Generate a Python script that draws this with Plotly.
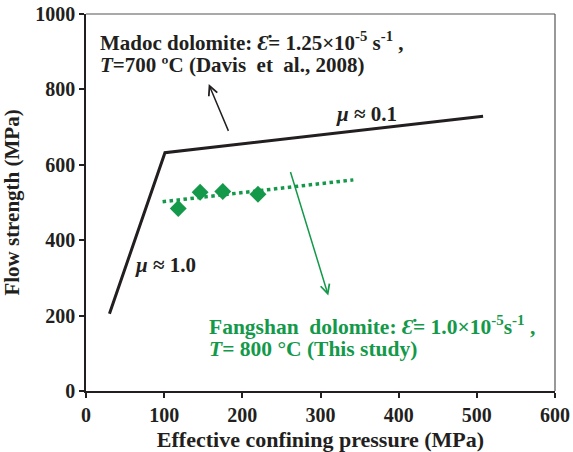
import plotly.graph_objects as go

# Madoc dolomite envelope (Davis et al., 2008)
madoc_p = [30, 101, 508]
madoc_s = [205, 632, 729]

# Fangshan dolomite data (this study)
fang_p = [118, 146, 175, 220]
fang_s = [484, 527, 529, 522]

# Fangshan trend line
trend_p = [98, 342]
trend_s = [502, 560]

x_ticks = [0, 100, 200, 300, 400, 500, 600]
y_ticks = [0, 200, 400, 600, 800, 1000]

BLACK = "#231f20"
GREEN = "#14994a"
FONT = "Liberation Serif, Times New Roman, serif"

fig = go.Figure()
fig.add_trace(go.Scatter(x=madoc_p, y=madoc_s, mode="lines",
                         line=dict(color=BLACK, width=3), showlegend=False))
fig.add_trace(go.Scatter(x=trend_p, y=trend_s, mode="lines",
                         line=dict(color=GREEN, width=3.5, dash="dot"), showlegend=False))
fig.add_trace(go.Scatter(x=fang_p, y=fang_s, mode="markers",
                         marker=dict(symbol="diamond", size=13, color=GREEN), showlegend=False))

ann = []
def txt(x, y, s, color=BLACK, size=21, xanchor="left"):
    ann.append(dict(x=x, y=y, xref="x", yref="y", text=s, showarrow=False,
                    xanchor=xanchor, yanchor="middle",
                    font=dict(family=FONT, size=size, color=color)))

txt(15, 928, "<b>Madoc dolomite: <i>Ɛ̇</i>= 1.25×10<sup>-5</sup> s<sup>-1</sup> ,</b>")
txt(15, 864, "<b><i>T</i>=700 ºC (Davis  et  al., 2008)</b>")
txt(317, 734, "<b><i>μ</i> ≈ 0.1</b>")
txt(60, 335, "<b><i>μ</i> ≈ 1.0</b>")
txt(155, 173, "<b>Fangshan  dolomite: <i>Ɛ̇</i>= 1.0×10<sup>-5</sup>s<sup>-1</sup> ,</b>",
    color=GREEN, size=21.5)
txt(155, 112, "<b><i>T</i>= 800 °C (This study)</b>", color=GREEN, size=21.5)

# arrows
ann.append(dict(x=157, y=814, ax=183, ay=686, xref="x", yref="y", axref="x", ayref="y",
                text="", showarrow=True, arrowhead=5, arrowsize=1.2, arrowwidth=1.5,
                arrowcolor=BLACK))
ann.append(dict(x=310, y=253, ax=261, ay=585, xref="x", yref="y", axref="x", ayref="y",
                text="", showarrow=True, arrowhead=5, arrowsize=1.2, arrowwidth=1.5,
                arrowcolor=GREEN))

fig.update_layout(
    width=573, height=452,
    margin=dict(l=86, r=18, t=14, b=61),
    paper_bgcolor="white", plot_bgcolor="white",
    annotations=ann,
    font=dict(family=FONT, color=BLACK),
    xaxis=dict(range=[0, 600], tickvals=x_ticks, ticktext=[f"<b>{v}</b>" for v in x_ticks],
               ticks="outside", ticklen=5, tickwidth=1.5, tickcolor=BLACK,
               showline=True, linecolor=BLACK, linewidth=1.5, mirror=False,
               showgrid=False, zeroline=False, automargin=False,
               tickfont=dict(family=FONT, size=20, color=BLACK),
               title=dict(text="<b>Effective confining pressure (MPa)</b>",
                          font=dict(family=FONT, size=22, color=BLACK))),
    yaxis=dict(range=[0, 1000], tickvals=y_ticks, ticktext=[f"<b>{v}</b>" for v in y_ticks],
               ticks="outside", ticklen=5, tickwidth=1.5, tickcolor=BLACK,
               showline=True, linecolor=BLACK, linewidth=1.5, mirror=False,
               showgrid=False, zeroline=False, automargin=False,
               tickfont=dict(family=FONT, size=20, color=BLACK),
               title=dict(text="<b>Flow strength (MPa)</b>",
                          font=dict(family=FONT, size=21, color=BLACK))),
    shapes=[
        dict(type="line", xref="paper", yref="paper", x0=0, x1=1, y0=1, y1=1,
             line=dict(color="#555555", width=1.2)),
        dict(type="line", xref="paper", yref="paper", x0=1, x1=1, y0=0, y1=1,
             line=dict(color="#555555", width=1.2)),
    ],
)

fig.write_html("out.html")
